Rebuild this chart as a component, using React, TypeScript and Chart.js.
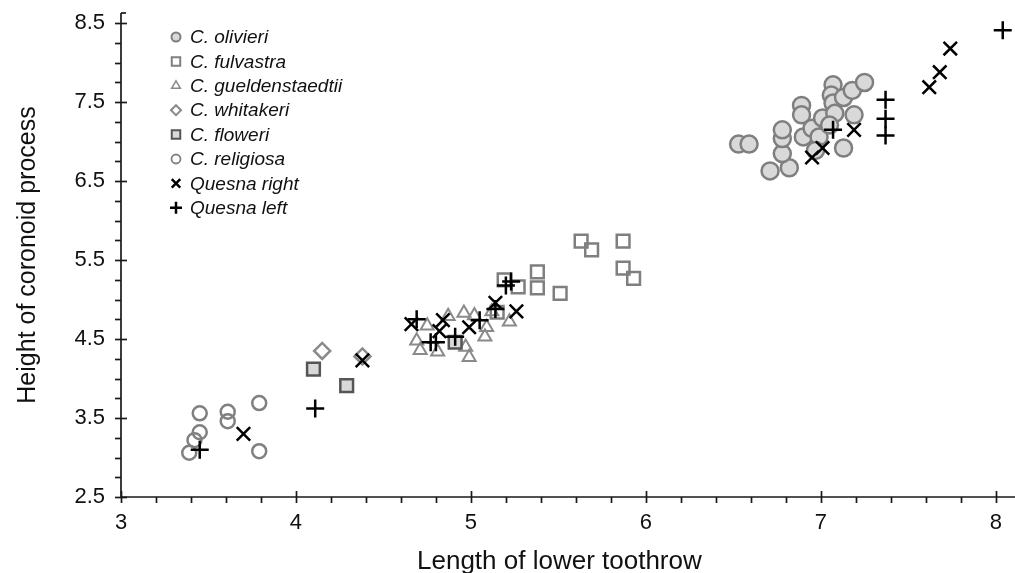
import React, { useEffect, useRef } from 'react';
import { Chart, registerables } from 'chart.js';
import { drawPoint } from 'chart.js/helpers';

Chart.register(...registerables);

// ---- data ----
const olivieriX = [6.53, 6.59, 6.71, 6.82, 6.78, 6.78, 6.78, 6.89, 6.89, 6.9, 6.95, 7.01, 6.99, 6.97, 7.07, 7.06, 7.07, 7.08, 7.13, 7.18, 7.25, 7.19, 7.13, 7.05];
const olivieriY = [6.97, 6.97, 6.63, 6.67, 6.85, 7.04, 7.15, 7.46, 7.34, 7.06, 7.17, 7.3, 7.06, 6.89, 7.72, 7.59, 7.49, 7.36, 7.56, 7.65, 7.75, 7.34, 6.92, 7.21];

const fulvastraX = [5.63, 5.69, 5.87, 5.87, 5.93, 5.38, 5.38, 5.51, 5.19, 5.27, 5.15];
const fulvastraY = [5.74, 5.63, 5.74, 5.4, 5.27, 5.35, 5.15, 5.08, 5.25, 5.16, 4.84];

const gueldX = [4.75, 4.69, 4.71, 4.81, 4.87, 4.96, 5.02, 5.09, 5.08, 4.97, 4.99, 5.22, 5.12];
const gueldY = [4.67, 4.48, 4.36, 4.34, 4.79, 4.83, 4.8, 4.65, 4.53, 4.4, 4.27, 4.72, 4.85];

const whitakeriX = [4.15, 4.38];
const whitakeriY = [4.35, 4.28];

const floweriX = [4.1, 4.29, 4.91];
const floweriY = [4.12, 3.91, 4.46];

const religiosaX = [3.45, 3.61, 3.61, 3.79, 3.45, 3.42, 3.39, 3.79];
const religiosaY = [3.56, 3.58, 3.46, 3.69, 3.32, 3.22, 3.06, 3.08];

const quesnaRightX = [3.7, 4.38, 4.66, 4.84, 4.82, 4.99, 5.14, 5.26, 6.95, 7.01, 7.19, 7.62, 7.68, 7.74];
const quesnaRightY = [3.3, 4.23, 4.69, 4.74, 4.6, 4.65, 4.96, 4.85, 6.8, 6.92, 7.15, 7.69, 7.88, 8.18];

const quesnaLeftX = [3.45, 4.11, 4.69, 4.77, 4.8, 4.91, 5.05, 5.14, 5.2, 5.23, 7.07, 7.37, 7.37, 7.37, 8.04];
const quesnaLeftY = [3.1, 3.62, 4.75, 4.46, 4.46, 4.53, 4.74, 4.88, 5.18, 5.23, 7.15, 7.53, 7.29, 7.08, 8.41];

const xTickValues = [3, 4, 5, 6, 7, 8];
const yTickValues = [2.5, 3.5, 4.5, 5.5, 6.5, 7.5, 8.5];

const xTitle = 'Length of lower toothrow';
const yTitle = 'Height of coronoid process';

const FONT = "'Liberation Sans', Arial, sans-serif";

const zip = (xs: number[], ys: number[]) => xs.map((x, i) => ({ x, y: ys[i] }));

const seriesDefs = [
  { label: 'C. olivieri', data: zip(olivieriX, olivieriY), pointStyle: 'circle', radius: 8.5, bg: '#d9d9d9', border: '#7f7f7f', bw: 2.5, order: 9, lr: 4.5, lbw: 2 },
  { label: 'C. fulvastra', data: zip(fulvastraX, fulvastraY), pointStyle: 'rect', radius: 9, bg: 'rgba(255,255,255,0)', border: '#7f7f7f', bw: 2.5, order: 8, lr: 6, lbw: 2 },
  { label: 'C. gueldenstaedtii', data: zip(gueldX, gueldY), pointStyle: 'triangle', radius: 7.5, bg: 'rgba(255,255,255,0)', border: '#8a8a8a', bw: 2, order: 7, lr: 5, lbw: 1.5 },
  { label: 'C. whitakeri', data: zip(whitakeriX, whitakeriY), pointStyle: 'rectRot', radius: 8, bg: 'rgba(255,255,255,0)', border: '#8a8a8a', bw: 2.5, order: 6, lr: 5, lbw: 2 },
  { label: 'C. floweri', data: zip(floweriX, floweriY), pointStyle: 'rect', radius: 9, bg: '#d9d9d9', border: '#555555', bw: 2.5, order: 5, lr: 6, lbw: 2 },
  { label: 'C. religiosa', data: zip(religiosaX, religiosaY), pointStyle: 'circle', radius: 7, bg: 'rgba(255,255,255,0)', border: '#808080', bw: 2.5, order: 4, lr: 4.5, lbw: 1.8 },
  { label: 'Quesna right', data: zip(quesnaRightX, quesnaRightY), pointStyle: 'crossRot', radius: 9.5, bg: '#000', border: '#000', bw: 2.5, order: 1, lr: 6, lbw: 2.5 },
  { label: 'Quesna left', data: zip(quesnaLeftX, quesnaLeftY), pointStyle: 'cross', radius: 9, bg: '#000', border: '#000', bw: 2.5, order: 0, lr: 6, lbw: 2.5 },
];

const axesLegendPlugin = {
  id: 'axesLegend',
  afterDatasetsDraw(chart: any) {
    const ctx = chart.ctx as CanvasRenderingContext2D;
    const xs = chart.scales.x;
    const ys = chart.scales.y;
    const ca = chart.chartArea;
    ctx.save();
    ctx.strokeStyle = '#1a1a1a';
    ctx.lineWidth = 1.7;
    // axis lines
    ctx.beginPath();
    ctx.moveTo(ca.left, ca.top);
    ctx.lineTo(ca.left, ca.bottom);
    ctx.lineTo(ca.right, ca.bottom);
    ctx.stroke();
    // top cap
    ctx.beginPath();
    ctx.moveTo(ca.left, ca.top);
    ctx.lineTo(ca.left + 5, ca.top);
    ctx.stroke();
    // x ticks
    for (let i = 0; i <= 25; i++) {
      const v = 3 + i * 0.2;
      const px = Math.round(xs.getPixelForValue(v)) + 0.5;
      if (px > ca.right) break;
      const major = i % 5 === 0;
      ctx.beginPath();
      ctx.moveTo(px, major ? ca.bottom - 6 : ca.bottom);
      ctx.lineTo(px, ca.bottom + 6);
      ctx.stroke();
    }
    // y ticks
    for (let i = 0; i <= 24; i++) {
      const v = 2.5 + i * 0.25;
      const py = Math.round(ys.getPixelForValue(v)) + 0.5;
      const major = i % 4 === 0;
      ctx.beginPath();
      ctx.moveTo(ca.left - 6, py);
      ctx.lineTo(major ? ca.left + 6 : ca.left, py);
      ctx.stroke();
    }
    // x-axis title
    ctx.fillStyle = '#111';
    ctx.font = `26px ${FONT}`;
    ctx.textAlign = 'center';
    ctx.textBaseline = 'middle';
    ctx.fillText(xTitle, xs.getPixelForValue(5.5) + 1, 562);
    // legend
    const lx = ca.left + 55;
    const ly0 = ca.top + 24;
    const step = 24.4;
    chart.data.datasets.forEach((ds: any, i: number) => {
      const y = ly0 + step * i;
      const def = seriesDefs[i];
      ctx.fillStyle = def.bg;
      ctx.strokeStyle = def.border;
      ctx.lineWidth = def.lbw;
      drawPoint(ctx, { pointStyle: def.pointStyle, radius: def.lr, rotation: 0, borderWidth: def.lbw } as any, lx, y);
      ctx.fillStyle = '#111';
      ctx.font = `italic 19px ${FONT}`;
      ctx.textAlign = 'left';
      ctx.textBaseline = 'middle';
      ctx.fillText(ds.label, lx + 14, y + 1);
    });
    ctx.restore();
  },
};

export default function App() {
  const canvasRef = useRef<HTMLCanvasElement | null>(null);

  useEffect(() => {
    document.body.style.margin = '0';
    const canvas = canvasRef.current;
    if (!canvas) return;
    const chart = new Chart(canvas, {
      type: 'scatter',
      data: {
        datasets: seriesDefs.map((d) => ({
          label: d.label,
          data: d.data,
          pointStyle: d.pointStyle as any,
          pointRadius: d.radius,
          pointHoverRadius: d.radius,
          pointBackgroundColor: d.bg,
          pointBorderColor: d.border,
          pointBorderWidth: d.bw,
          backgroundColor: d.bg,
          borderColor: d.border,
          order: d.order,
        })),
      },
      options: {
        animation: false,
        responsive: false,
        devicePixelRatio: 1,
        layout: { autoPadding: false, padding: { top: 13, right: 0, left: 0, bottom: 0 } },
        plugins: { legend: { display: false }, tooltip: { enabled: false } },
        scales: {
          x: {
            type: 'linear',
            min: 3,
            max: 8.11,
            afterFit: (s: any) => { s.height = 76; s.paddingLeft = 0; s.paddingRight = 0; },
            afterBuildTicks: (s: any) => { s.ticks = xTickValues.map((v) => ({ value: v })); },
            grid: { display: false, drawTicks: false },
            border: { display: false },
            ticks: {
              padding: 13,
              color: '#111',
              font: { family: FONT, size: 22 },
              callback: (v: any) => String(v),
              maxRotation: 0,
            },
            title: { display: false, text: xTitle },
          },
          y: {
            type: 'linear',
            min: 2.5,
            max: 8.63,
            afterFit: (s: any) => { s.width = 121; s.paddingTop = 0; s.paddingBottom = 0; },
            afterBuildTicks: (s: any) => { s.ticks = yTickValues.map((v) => ({ value: v })); },
            grid: { display: false, drawTicks: false },
            border: { display: false },
            ticks: {
              padding: 16,
              color: '#111',
              font: { family: FONT, size: 22 },
              callback: (v: any) => Number(v).toFixed(1),
            },
            title: {
              display: true,
              text: yTitle,
              color: '#111',
              font: { family: FONT, size: 25, lineHeight: 1.2 },
              padding: { top: 13, bottom: 0 },
            },
          },
        },
      },
      plugins: [axesLegendPlugin],
    });
    return () => chart.destroy();
  }, []);

  return (
    <div style={{ width: 1015, height: 573 }}>
      <canvas ref={canvasRef} width={1015} height={573} style={{ display: 'block' }} />
    </div>
  );
}
